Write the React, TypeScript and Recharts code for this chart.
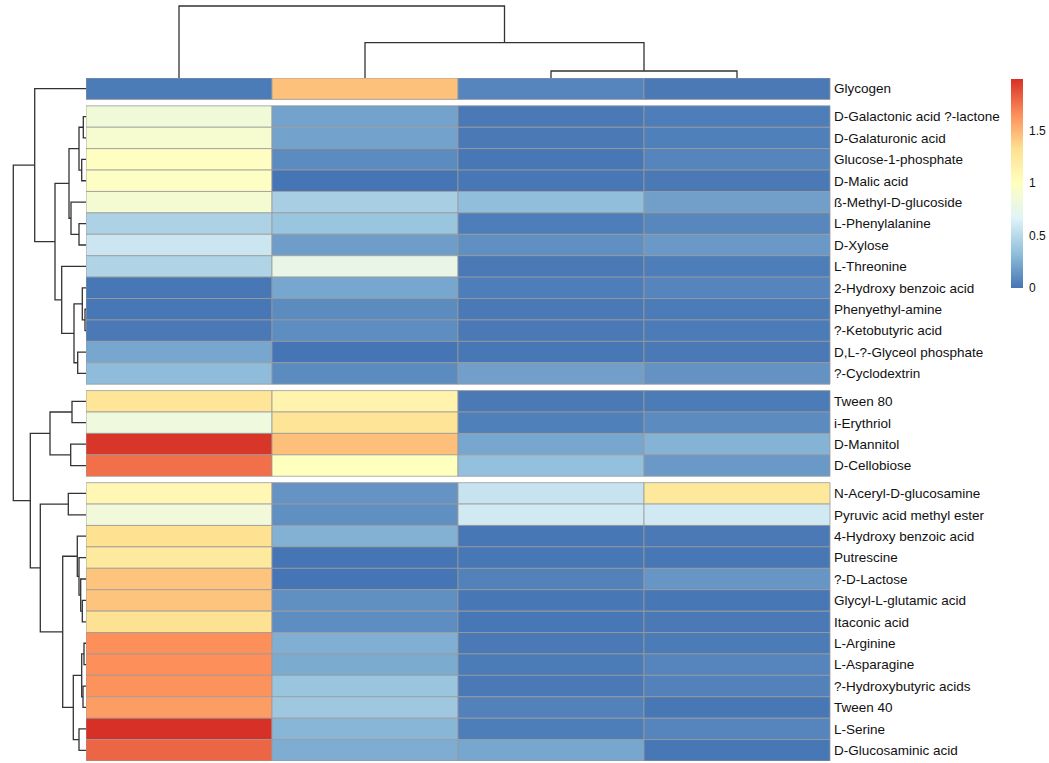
import { ScatterChart, Scatter, XAxis, YAxis, ReferenceArea, BarChart, Bar } from 'recharts';

// row order as displayed (after clustering)
const rowLabels = [
    'Glycogen',
    'D-Galactonic acid ?-lactone', 'D-Galaturonic acid', 'Glucose-1-phosphate', 'D-Malic acid',
    'ß-Methyl-D-glucoside', 'L-Phenylalanine', 'D-Xylose', 'L-Threonine', '2-Hydroxy benzoic acid',
    'Phenyethyl-amine', '?-Ketobutyric acid', 'D,L-?-Glyceol phosphate', '?-Cyclodextrin',
    'Tween 80', 'i-Erythriol', 'D-Mannitol', 'D-Cellobiose',
    'N-Aceryl-D-glucosamine', 'Pyruvic acid methyl ester', '4-Hydroxy benzoic acid', 'Putrescine',
    '?-D-Lactose', 'Glycyl-L-glutamic acid', 'Itaconic acid', 'L-Arginine', 'L-Asparagine',
    '?-Hydroxybutyric acids', 'Tween 40', 'L-Serine', 'D-Glucosaminic acid',
];

// cutree group of each row (gaps drawn between groups)
const rowGroups = [
    0,
    1, 1, 1, 1, 1, 1, 1, 1, 1, 1, 1, 1, 1,
    2, 2, 2, 2,
    3, 3, 3, 3, 3, 3, 3, 3, 3, 3, 3, 3, 3,
];

const sample1 = [0.03, 0.85, 0.9, 0.98, 0.97, 0.88, 0.45, 0.58, 0.46, 0.01, 0.01, 0.02, 0.22, 0.32, 1.27, 0.82, 1.97, 1.76, 1.08, 0.84, 1.31, 1.22, 1.44, 1.44, 1.3, 1.65, 1.65, 1.64, 1.59, 1.99, 1.8];
const sample2 = [1.45, 0.2, 0.2, 0.1, 0.0, 0.43, 0.37, 0.18, 0.76, 0.22, 0.1, 0.11, 0.0, 0.1, 1.12, 1.28, 1.46, 1.0, 0.14, 0.12, 0.27, 0.0, 0.0, 0.12, 0.11, 0.26, 0.24, 0.37, 0.39, 0.29, 0.25];
const sample3 = [0.07, 0.02, 0.02, 0.01, 0.01, 0.33, 0.04, 0.12, 0.02, 0.04, 0.02, 0.02, 0.01, 0.19, 0.02, 0.05, 0.22, 0.34, 0.56, 0.6, 0.01, 0.01, 0.06, 0.01, 0.01, 0.02, 0.03, 0.02, 0.06, 0.04, 0.22];
const sample4 = [0.02, 0.04, 0.05, 0.07, 0.02, 0.19, 0.08, 0.16, 0.04, 0.07, 0.03, 0.03, 0.02, 0.13, 0.03, 0.1, 0.28, 0.16, 1.24, 0.6, 0.02, 0.01, 0.15, 0.01, 0.02, 0.03, 0.07, 0.06, 0.01, 0.07, 0.01];

// hclust style merges: negative = leaf (1-based row), positive = earlier merge (1-based)
const rowMerges: [number, number][] = [
    [-11, -12], [-26, -27], [-2, -3], [-28, -29], [-10, 1], [-24, -25], [-4, -5], [2, 4],
    [-23, 6], [3, 7], [-7, -8], [-22, 9], [-30, -31], [-13, -14], [-21, 12], [5, 14],
    [8, 13], [-15, -16], [-6, 11], [-17, -18], [10, 19], [-19, -20], [15, 17], [-9, 16],
    [21, 24], [18, 20], [22, 23], [-1, 25], [26, 27], [28, 29],
];
const rowHeights = [
    0.05, 0.1, 0.135, 0.15, 0.185, 0.185, 0.215, 0.215,
    0.265, 0.35, 0.35, 0.35, 0.35, 0.415, 0.435, 0.6,
    0.635, 0.7, 0.75, 0.765, 0.85, 0.885, 1.165, 1.215,
    1.55, 1.8, 2.285, 2.565, 2.785, 3.635,
];

const colMerges: [number, number][] = [[-3, -4], [-2, 1], [-1, 2]];
const colHeights = [0.35, 1.765, 3.6];

const legendTicks = [0, 0.5, 1, 1.5];

const palette = ['#4575B4', '#91BFDB', '#E0F3F8', '#FFFFBF', '#FEE090', '#FC8D59', '#D73027'];

const FONT = '"Liberation Sans", Arial, sans-serif';
const GAP = 0.3;
const columns = [sample1, sample2, sample3, sample4];
const maxVal = Math.max(...columns.flat());
const minVal = 0;

const rowTop = rowGroups.map((g, i) => i + g * GAP);
const rowCenter = rowTop.map(t => t + 0.5);
const yMax = rowLabels.length + GAP * rowGroups[rowGroups.length - 1];

const labelByTick = new Map(rowCenter.map((c, i) => [c.toFixed(3), rowLabels[i]]));

function hexToRgb(h: string) {
    return [1, 3, 5].map(k => parseInt(h.slice(k, k + 2), 16));
}

function colorFor(v: number) {
    const t = Math.min(1, Math.max(0, (v - minVal) / (maxVal - minVal))) * (palette.length - 1);
    const i = Math.min(palette.length - 2, Math.floor(t));
    const f = t - i;
    const a = hexToRgb(palette[i]);
    const b = hexToRgb(palette[i + 1]);
    const c = a.map((x, k) => Math.round(x + (b[k] - x) * f));
    return `rgb(${c[0]},${c[1]},${c[2]})`;
}

type Pt = { pos: number; h: number };

function buildTree(merges: [number, number][], heights: number[], leafPos: number[]) {
    const nodes: Pt[] = [];
    const get = (ref: number): Pt => (ref < 0 ? { pos: leafPos[-ref - 1], h: 0 } : nodes[ref - 1]);
    return merges.map(([a, b], k) => {
        const A = get(a);
        const B = get(b);
        const h = heights[k];
        nodes.push({ pos: (A.pos + B.pos) / 2, h });
        return [A, { pos: A.pos, h }, { pos: B.pos, h }, B];
    });
}

const rowTree = buildTree(rowMerges, rowHeights, rowCenter);
const colTree = buildTree(colMerges, colHeights, [0.5, 1.5, 2.5, 3.5]);

const cells = rowLabels.flatMap((_, r) =>
    columns.map((col, c) => ({ r, c, value: col[r] }))
);
const cellCenters = cells.map(d => ({ x: d.c + 0.5, y: rowTop[d.r] + 0.5 }));

const NoDot = () => <g />;

const lineStyle = { stroke: '#333', strokeWidth: 1.3 };
const noMargin = { top: 0, right: 0, bottom: 0, left: 0 };

const HEAT_W = 744;
const HEAT_H = 683;
const LABEL_W = 219;

export default function App() {
    return (
        <div style={{ position: 'absolute', left: 0, top: 0, width: 1049, height: 763, overflow: 'hidden', background: '#fff', fontFamily: FONT }}>
            {/* column dendrogram */}
            <div style={{ position: 'absolute', left: 86, top: 0 }}>
                <ScatterChart width={HEAT_W} height={78} margin={noMargin}>
                    <XAxis type="number" dataKey="x" domain={[0, 4]} hide />
                    <YAxis type="number" dataKey="y" domain={[0, 3.9]} hide />
                    {colTree.map((seg, i) => (
                        <Scatter key={i} data={seg.map(p => ({ x: p.pos, y: p.h }))} line={lineStyle}
                            shape={NoDot} isAnimationActive={false} />
                    ))}
                </ScatterChart>
            </div>

            {/* row dendrogram */}
            <div style={{ position: 'absolute', left: 0, top: 78 }}>
                <ScatterChart width={86} height={HEAT_H} margin={noMargin}>
                    <XAxis type="number" dataKey="x" domain={[0, 4.3]} reversed hide />
                    <YAxis type="number" dataKey="y" domain={[0, yMax]} reversed hide />
                    {rowTree.map((seg, i) => (
                        <Scatter key={i} data={seg.map(p => ({ x: p.h, y: p.pos }))} line={lineStyle}
                            shape={NoDot} isAnimationActive={false} />
                    ))}
                </ScatterChart>
            </div>

            {/* heatmap with row labels */}
            <div style={{ position: 'absolute', left: 86, top: 78 }}>
                <ScatterChart width={HEAT_W + LABEL_W} height={HEAT_H} margin={noMargin}>
                    <XAxis type="number" dataKey="x" domain={[0, 4]} hide />
                    <YAxis
                        type="number"
                        dataKey="y"
                        domain={[0, yMax]}
                        reversed
                        orientation="right"
                        width={LABEL_W}
                        ticks={rowCenter}
                        interval={0}
                        tickFormatter={(v: number) => labelByTick.get(v.toFixed(3)) ?? ''}
                        axisLine={false}
                        tickLine={false}
                        tickSize={0}
                        tickMargin={4}
                        tick={{ fontSize: 13.5, fill: '#111', fontFamily: FONT }}
                    />
                    {cells.map(d => (
                        <ReferenceArea
                            key={`${d.r}-${d.c}`}
                            x1={d.c}
                            x2={d.c + 1}
                            y1={rowTop[d.r]}
                            y2={rowTop[d.r] + 1}
                            fill={colorFor(d.value)}
                            fillOpacity={1}
                            stroke="#9a9a9a"
                            strokeWidth={0.8}
                            ifOverflow="visible"
                        />
                    ))}
                    <Scatter data={cellCenters} shape={NoDot} isAnimationActive={false} />
                </ScatterChart>
            </div>

            {/* colour key */}
            <div style={{ position: 'absolute', left: 1011, top: 69 }}>
                <BarChart width={38} height={229} data={[{ name: 'key', v: maxVal }]}
                    margin={{ top: 10, right: 0, bottom: 10, left: 0 }} barCategoryGap={0}>
                    <defs>
                        <linearGradient id="heatKey" x1="0" y1="1" x2="0" y2="0">
                            {palette.map((c, i) => (
                                <stop key={c} offset={`${(i / (palette.length - 1)) * 100}%`} stopColor={c} />
                            ))}
                        </linearGradient>
                    </defs>
                    <XAxis dataKey="name" hide />
                    <YAxis
                        type="number"
                        domain={[minVal, maxVal]}
                        orientation="right"
                        width={26}
                        ticks={legendTicks}
                        interval={0}
                        axisLine={false}
                        tickLine={false}
                        tickSize={0}
                        tickMargin={6}
                        tick={{ fontSize: 12, fill: '#111', fontFamily: FONT }}
                    />
                    <Bar dataKey="v" fill="url(#heatKey)" isAnimationActive={false} />
                </BarChart>
            </div>
        </div>
    );
}
